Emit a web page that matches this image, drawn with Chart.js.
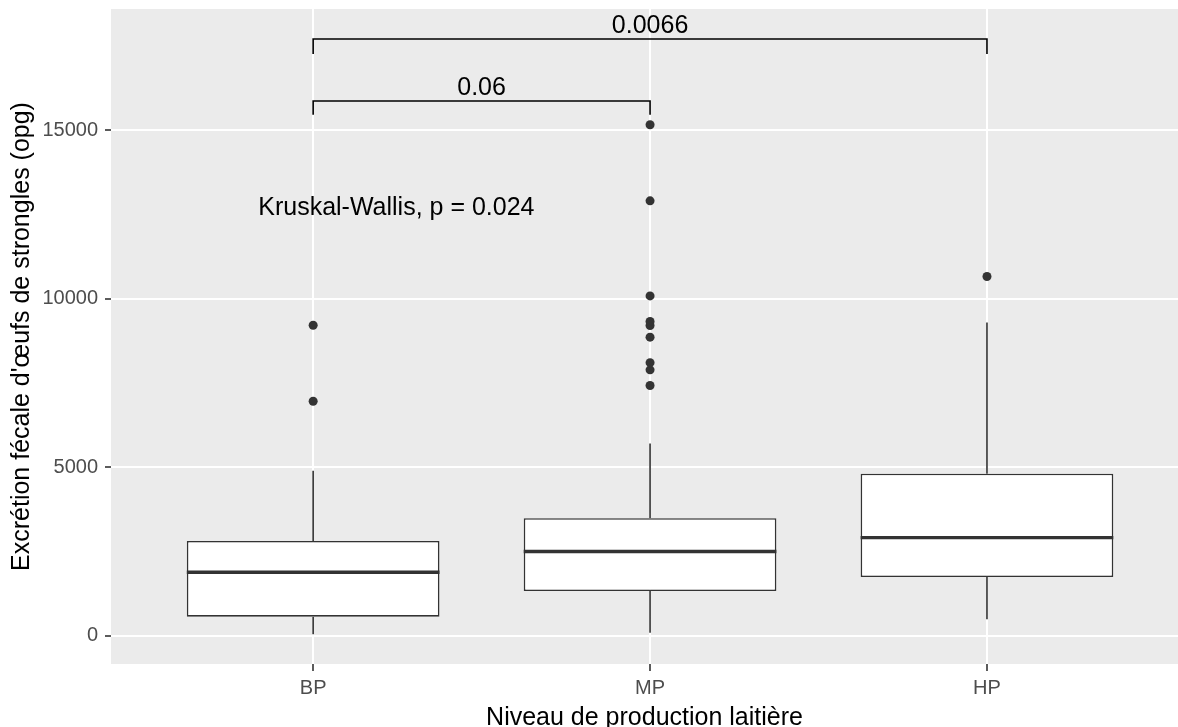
<!DOCTYPE html>
<html>
<head>
<meta charset="utf-8">
<script src="https://cdn.jsdelivr.net/npm/chart.js@4.4.0/dist/chart.umd.min.js"></script>
<style>
  html, body { margin: 0; padding: 0; background: #ffffff; }
  #wrap { width: 1178px; height: 727px; }
</style>
</head>
<body>
<div id="wrap"><canvas id="egg-box" width="1178" height="727"></canvas></div>
<script>
// groups and box statistics
const categories  = ['BP', 'MP', 'HP'];
const whiskerLow  = [40, 90, 490];
const q1          = [565, 1325, 1740];
const medians     = [1880, 2495, 2910];
const q3          = [2810, 3485, 4805];
const whiskerHigh = [4895, 5700, 9290];
const outliers = [
    [6955, 9210],
    [7420, 7885, 8100, 8855, 9200, 9320, 10080, 12900, 15155],
    [10655]
];

// pairwise comparisons (brackets)
const compFrom   = [0, 0];
const compTo     = [1, 2];
const compY      = [15860, 17700];
const compTipY   = [15450, 17255];
const compLabels = ['0.06', '0.0066'];

const kruskalLabel = 'Kruskal-Wallis, p = 0.024';

const yMajorTicks = [0, 5000, 10000, 15000];
const yMinorTicks = [2500, 7500, 12500, 17500];

// axis limits and annotation placement
const Y_MIN = -840, Y_MAX = 18590;
const X_MIN = -0.6, X_MAX = 2.567;
const KW_X = -0.163, KW_Y = 12480;
const BOX_HALF = 0.375;

const FONT = '"Liberation Sans", Arial, sans-serif';
const INK = '#333333';

const isMajor = v => yMajorTicks.includes(v);

// whiskers: two vertical segments per group, broken by nulls
const whiskerPoints = [];
categories.forEach((c, i) => {
    whiskerPoints.push({x: i, y: whiskerLow[i]}, {x: i, y: q1[i]}, {x: i, y: null});
    whiskerPoints.push({x: i, y: q3[i]}, {x: i, y: whiskerHigh[i]}, {x: i, y: null});
});

const medianPoints = [];
categories.forEach((c, i) => {
    medianPoints.push({x: i - BOX_HALF, y: medians[i]}, {x: i + BOX_HALF, y: medians[i]}, {x: i, y: null});
});

const outlierPoints = [];
outliers.forEach((vals, i) => vals.forEach(v => outlierPoints.push({x: i, y: v})));

const bracketPoints = [];
compLabels.forEach((lab, k) => {
    bracketPoints.push(
        {x: compFrom[k], y: compTipY[k]},
        {x: compFrom[k], y: compY[k]},
        {x: compTo[k], y: compY[k]},
        {x: compTo[k], y: compTipY[k]},
        {x: compTo[k], y: null}
    );
});

const panelPlugin = {
    id: 'panel',
    beforeDraw(chart) {
        const {ctx, chartArea: a} = chart;
        ctx.save();
        ctx.fillStyle = '#ffffff';
        ctx.fillRect(0, 0, chart.width, chart.height);
        ctx.fillStyle = '#EBEBEB';
        ctx.fillRect(a.left, a.top, a.right - a.left, a.bottom - a.top);
        ctx.restore();
    }
};

const labelPlugin = {
    id: 'labels',
    afterDatasetsDraw(chart) {
        const {ctx} = chart;
        const x = chart.scales.x, y = chart.scales.y;
        ctx.save();
        ctx.fillStyle = '#000000';
        ctx.font = '25px ' + FONT;
        ctx.textBaseline = 'alphabetic';
        ctx.textAlign = 'center';
        compLabels.forEach((lab, k) => {
            const cx = x.getPixelForValue((compFrom[k] + compTo[k]) / 2);
            ctx.fillText(lab, cx, y.getPixelForValue(compY[k]) - 6);
        });
        ctx.textAlign = 'left';
        ctx.fillText(kruskalLabel, x.getPixelForValue(KW_X), y.getPixelForValue(KW_Y));
        ctx.restore();
    }
};

new Chart(document.getElementById('egg-box'), {
    type: 'bar',
    data: {
        datasets: [
            {
                type: 'scatter',
                order: 0,
                data: outlierPoints,
                pointRadius: 4.5,
                pointBackgroundColor: INK,
                pointBorderWidth: 0
            },
            {
                type: 'line',
                order: 1,
                data: bracketPoints,
                borderColor: '#000000',
                borderWidth: 1.6,
                pointRadius: 0,
                spanGaps: false,
                fill: false
            },
            {
                type: 'line',
                order: 2,
                data: medianPoints,
                borderColor: INK,
                borderWidth: 3.4,
                pointRadius: 0,
                spanGaps: false,
                fill: false
            },
            {
                type: 'bar',
                order: 3,
                data: categories.map((c, i) => ({x: i, y: [q1[i], q3[i]]})),
                backgroundColor: '#ffffff',
                borderColor: INK,
                borderWidth: 1.6,
                borderSkipped: false,
                barPercentage: 0.75,
                categoryPercentage: 1
            },
            {
                type: 'line',
                order: 4,
                data: whiskerPoints,
                borderColor: INK,
                borderWidth: 1.6,
                pointRadius: 0,
                spanGaps: false,
                fill: false
            }
        ]
    },
    options: {
        responsive: false,
        animation: false,
        devicePixelRatio: 1,
        layout: {autoPadding: false, padding: {top: 9, right: 0, left: 0, bottom: 0}},
        plugins: {legend: {display: false}, tooltip: {enabled: false}},
        scales: {
            x: {
                type: 'linear',
                min: X_MIN,
                max: X_MAX,
                offset: false,
                afterBuildTicks: axis => { axis.ticks = categories.map((c, i) => ({value: i})); },
                afterFit: axis => {
                    axis.height = 63;
                    axis.paddingLeft = 0;
                    axis.paddingRight = 0;
                },
                border: {display: false},
                grid: {
                    offset: false,
                    color: '#ffffff',
                    lineWidth: 2,
                    tickColor: INK,
                    tickWidth: 1.6,
                    tickLength: 7
                },
                ticks: {
                    autoSkip: false,
                    maxRotation: 0,
                    padding: 5,
                    color: '#4D4D4D',
                    font: {family: FONT, size: 20},
                    callback: v => categories[v]
                },
                title: {
                    display: true,
                    text: 'Niveau de production laitière',
                    color: '#000000',
                    font: {family: FONT, size: 25, lineHeight: 0.72},
                    padding: {top: 0, bottom: 0}
                }
            },
            y: {
                type: 'linear',
                min: Y_MIN,
                max: Y_MAX,
                afterBuildTicks: axis => {
                    axis.ticks = yMajorTicks.concat(yMinorTicks).sort((a, b) => a - b).map(v => ({value: v}));
                },
                afterFit: axis => {
                    axis.width = 111;
                    axis.paddingTop = 0;
                    axis.paddingBottom = 0;
                },
                border: {display: false},
                grid: {
                    color: '#ffffff',
                    lineWidth: ctx => isMajor(ctx.tick.value) ? 2 : 1,
                    tickColor: ctx => isMajor(ctx.tick.value) ? INK : 'rgba(0,0,0,0)',
                    tickWidth: 1.6,
                    tickLength: 6
                },
                ticks: {
                    padding: 7,
                    color: '#4D4D4D',
                    font: {family: FONT, size: 20},
                    callback: v => isMajor(v) ? String(v) : null
                },
                title: {
                    display: true,
                    text: "Excrétion fécale d'œufs de strongles (opg)",
                    color: '#000000',
                    font: {family: FONT, size: 25, lineHeight: 1},
                    padding: {top: 10, bottom: 0}
                }
            }
        }
    },
    plugins: [panelPlugin, labelPlugin]
});
</script>
</body>
</html>
